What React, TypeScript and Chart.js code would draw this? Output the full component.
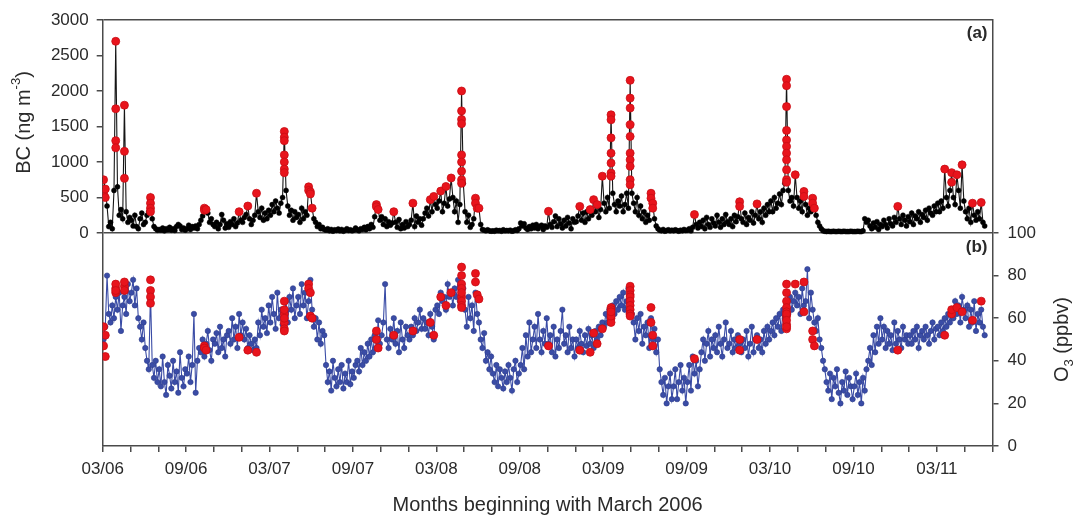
import React, { useEffect, useRef } from 'react';
import { Chart, registerables } from 'chart.js';

Chart.register(...registerables);

// x tick labels (every 6 months from March 2006)
const tickLabels = ['03/06', '09/06', '03/07', '09/07', '03/08', '09/08', '03/09', '09/09', '03/10', '09/10', '03/11'];

// BC (ng m-3), 8 samples per month, Mar 2006 .. mid Jun 2011
const bc2006 = [
  750, 620, 380, 90, 150, 60, 600, 2700,
  650, 250, 330, 200, 1800, 300, 150, 220,
  180, 100, 250, 90, 60, 200, 280, 120,
  150, 250, 300, 500, 200, 90, 60, 40,
  50, 40, 70, 30, 60, 45, 80, 40,
  60, 35, 90, 120, 100, 50, 70, 40,
  60, 110, 50, 90, 70, 100, 60, 120,
  180, 240, 350, 330, 280, 150, 200, 120,
  90, 150, 60, 120, 260, 180, 70, 130,
  80, 160, 120, 200, 90, 140, 300, 180];
const bc2007 = [
  150, 220, 260, 380, 200, 120, 180, 250,
  560, 300, 220, 350, 180, 280, 200, 320,
  250, 400, 300, 450, 350, 280, 420, 500,
  1430, 600, 380, 250, 320, 180, 300, 220,
  260, 150, 350, 200, 300, 250, 650, 580,
  350, 200, 150, 90, 120, 60, 80, 50,
  40, 60, 30, 50, 25, 45, 35, 55,
  30, 50, 25, 40, 60, 35, 45, 30,
  40, 70, 45, 30, 60, 50, 80, 45,
  90, 60, 120, 80, 230, 400, 330, 180,
  230, 120, 200, 90, 160, 110, 140, 300,
  150, 80, 190, 60, 120, 70, 160, 90];
const bc2008 = [
  120, 180, 420, 90, 240, 150, 200, 110,
  200, 280, 350, 240, 470, 300, 515, 400,
  350, 450, 590, 300, 420, 655, 380, 480,
  775, 500, 300, 450, 150, 400, 2000, 700,
  300, 150, 250, 80, 120, 200, 490, 350,
  350, 120, 50, 40, 30, 45, 30, 25,
  30, 25, 40, 30, 35, 25, 45, 30,
  35, 30, 40, 25, 30, 45, 35, 60,
  140, 100, 130, 70, 50, 90, 60, 110,
  70, 120, 60, 90, 110, 50, 100, 80,
  305, 120, 80, 160, 240, 90, 200, 130,
  70, 180, 100, 220, 140, 60, 200, 150];
const bc2009 = [
  160, 240, 375, 180, 280, 150, 300, 200,
  330, 250, 470, 300, 400, 220, 330, 800,
  420, 300, 500, 350, 1665, 560, 400, 300,
  450, 380, 520, 300, 400, 560, 350, 2150,
  560, 420, 300, 500, 250, 380, 200, 300,
  150, 250, 180, 560, 420, 200, 100, 60,
  40, 30, 50, 25, 35, 45, 30, 40,
  30, 45, 35, 25, 40, 30, 50, 35,
  40, 60, 30, 80, 260, 120, 70, 150,
  90, 180, 60, 220, 120, 80, 200, 140,
  100, 250, 150, 80, 200, 120, 260, 160,
  120, 200, 90, 250, 160, 230, 440, 200];
const bc2010 = [
  150, 280, 120, 220, 180, 300, 140, 250,
  410, 200, 300, 150, 350, 250, 400, 300,
  450, 300, 500, 350, 420, 550, 400, 600,
  700, 2165, 600, 450, 500, 380, 820, 500,
  350, 450, 300, 585, 400, 250, 350, 300,
  490, 350, 250, 150, 100, 60, 30, 25,
  20, 25, 20, 20, 25, 20, 20, 25,
  20, 20, 25, 20, 20, 20, 25, 20,
  20, 20, 25, 20, 20, 30, 200, 150,
  180, 100, 60, 140, 80, 160, 50, 120,
  90, 180, 120, 70, 200, 130, 100, 220,
  150, 375, 200, 120, 250, 180, 100, 230];
const bc2011 = [
  160, 280, 120, 240, 200, 300, 150, 260,
  220, 320, 180, 350, 280, 250, 380, 300,
  420, 300, 450, 350, 900, 500, 380, 600,
  850, 500, 400, 820, 600, 350, 960, 450,
  300, 200, 350, 150, 420, 250, 180, 300,
  200, 430, 150, 100];

// O3 (ppbv), same sampling
const o32006 = [
  50, 56, 80, 62, 58, 66, 60, 70,
  64, 72, 54, 66, 70, 62, 76, 68,
  72, 78, 66, 74, 60, 56, 50, 58,
  46, 40, 36, 72, 38, 32, 40, 30,
  36, 28, 42, 30, 24, 38, 33, 27,
  40, 30, 35, 25, 44, 32, 28, 36,
  34, 42, 30, 38, 62, 25, 40, 46,
  44, 50, 42, 48, 54, 45, 40, 50,
  48, 53, 44, 56, 46, 50, 42, 52,
  54, 48, 60, 50, 56, 46, 62, 52];
const o32007 = [
  58, 50, 55, 46, 52, 48, 45, 50,
  46, 58, 52, 64, 56, 60, 53, 66,
  58, 70, 62, 55, 72, 60, 64, 57,
  62, 68, 58, 70, 64, 74, 60, 66,
  70, 62, 76, 66, 72, 60, 68, 78,
  64, 56, 60, 50, 58, 48, 54, 52,
  38, 30, 35, 26, 40, 32, 28, 36,
  30, 38, 27, 34, 30, 40, 29, 35,
  32, 38, 40, 35, 46, 38, 44, 40,
  48, 42, 50, 44, 52, 46, 59, 48,
  52, 58, 76, 50, 46, 55, 50, 60,
  48, 54, 44, 58, 50, 46, 56, 52];
const o32008 = [
  50, 56, 52, 60, 54, 58, 64, 55,
  60, 55, 58, 52, 62, 56, 50, 64,
  66, 62, 72, 68, 70, 64, 76, 70,
  72, 66, 74, 70, 78, 68, 72, 74,
  64, 56, 70, 60, 66, 54, 72, 62,
  58, 50, 46, 53, 40, 44, 36, 42,
  34, 30, 38, 28, 36, 32, 27, 35,
  30, 38, 32, 26, 36, 40, 30, 34,
  38, 46, 36, 52, 42, 58, 44, 50,
  56, 46, 62, 50, 44, 54, 48, 60,
  48, 52, 44, 56, 42, 50, 46, 54,
  64, 48, 52, 44, 56, 46, 50, 42];
const o32009 = [
  50, 46, 54, 48, 44, 52, 47, 55,
  48, 52, 46, 54, 50, 56, 52, 58,
  56, 62, 58, 64, 60, 66, 62, 68,
  64, 70, 66, 72, 64, 68, 74, 66,
  62, 58, 50, 60, 54, 62, 48, 56,
  52, 58, 46, 60, 50, 55, 44, 50,
  36, 30, 24, 32, 20, 28, 34, 22,
  28, 36, 22, 30, 38, 26, 32, 20,
  30, 38, 26, 42, 34, 40, 28, 36,
  44, 50, 40, 48, 54, 42, 50, 46,
  52, 44, 56, 48, 42, 50, 58, 46,
  48, 54, 44, 50, 46, 52, 48, 44];
const o32010 = [
  50, 46, 54, 42, 48, 56, 44, 50,
  52, 46, 50, 44, 54, 48, 56, 50,
  54, 58, 52, 60, 56, 62, 54, 64,
  60, 66, 62, 70, 64, 68, 72, 66,
  70, 62, 74, 66, 68, 83, 60, 72,
  64, 58, 54, 60, 50, 46, 40, 36,
  30, 26, 34, 22, 32, 28, 36, 25,
  20, 30, 26, 35, 24, 32, 28, 22,
  28, 34, 24, 30, 20, 32, 26, 36,
  40, 46, 38, 52, 44, 56, 48, 60,
  50, 56, 46, 54, 48, 52, 45, 58,
  48, 54, 50, 46, 56, 50, 52, 48];
const o32011 = [
  52, 48, 54, 50, 56, 46, 52, 54,
  50, 56, 52, 48, 54, 58, 50, 55,
  56, 52, 58, 54, 60, 56, 62, 58,
  64, 60, 68, 62, 66, 58, 70, 64,
  60, 66, 56, 64, 58, 68, 54, 62,
  58, 64, 56, 52];

// highlighted (red) days: months since 1 March 2006, BC and O3 on those days
const evMonth = [
  0.0625, 0.0625, 0.1875, 0.1875, 0.9375, 0.9375, 0.9375, 0.9375, 1.5625, 1.5625, 1.5625,
  3.4375, 3.4375, 3.4375, 3.4375, 7.3125, 7.3125, 7.4375, 9.8125, 10.4375, 11.0625,
  13.0625, 13.0625, 13.0625, 13.0625, 13.0625, 13.0625, 13.0625,
  14.8125, 14.8125, 14.9375, 14.9375, 15.0625, 19.6875, 19.6875, 19.8125, 20.9375,
  22.3125, 23.5625, 23.8125, 24.3125, 24.6875, 25.0625,
  25.8125, 25.8125, 25.8125, 25.8125, 25.8125, 25.8125, 25.8125, 25.8125, 25.8125,
  26.8125, 26.8125, 26.9375, 27.0625, 32.0625, 34.3125, 35.0625, 35.3125, 35.5625, 35.9375,
  36.5625, 36.5625, 36.5625, 36.5625, 36.5625, 36.5625, 36.5625,
  37.9375, 37.9375, 37.9375, 37.9375, 37.9375, 37.9375, 37.9375, 37.9375, 37.9375, 37.9375,
  39.4375, 39.4375, 39.5625, 39.5625, 42.5625, 45.8125, 45.8125, 47.0625,
  49.1875, 49.1875, 49.1875, 49.1875, 49.1875, 49.1875, 49.1875, 49.1875, 49.1875, 49.1875, 49.1875,
  49.8125, 50.4375, 50.4375, 51.0625, 51.0625, 51.1875, 57.1875, 60.5625,
  61.0625, 61.0625, 61.4375, 61.8125, 62.5625, 63.1875];
const evBC = [
  750, 560, 620, 500, 2700, 1750, 1300, 1200, 1800, 1150, 770,
  500, 420, 350, 300, 350, 320, 330, 300, 380, 560,
  1430, 1350, 1300, 1100, 1000, 900, 850,
  650, 600, 580, 550, 350, 400, 370, 330, 300,
  420, 470, 515, 590, 655, 775,
  2000, 1720, 1600, 1540, 1100, 1000, 870, 750, 700,
  490, 420, 350, 350, 305, 375, 330, 470, 400, 800,
  1665, 1595, 1340, 1125, 985, 845, 800,
  2150, 1900, 1760, 1525, 1360, 1125, 1030, 940, 750, 680,
  560, 490, 420, 350, 260, 440, 375, 410,
  2165, 2075, 1780, 1445, 1310, 1220, 1125, 1030, 890, 750, 715,
  820, 585, 515, 490, 420, 350, 375, 900,
  850, 715, 820, 960, 420, 430];
const evO3 = [
  56, 47, 52, 42, 74, 76, 72, 73, 75, 73, 77,
  78, 73, 70, 67, 47, 46, 45, 51, 45, 44,
  68, 62, 58, 55, 54, 60, 64,
  76, 74, 72, 61, 60, 54, 50, 46, 52,
  54, 58, 52, 70, 66, 72,
  84, 80, 76, 74, 70, 68, 72, 66, 65,
  81, 77, 71, 69, 47, 45, 44, 53, 48, 55,
  65, 62, 64, 60, 58, 61, 63,
  75, 73, 71, 70, 68, 66, 64, 62, 62, 61,
  65, 58, 52, 47, 41, 50, 45, 50,
  76, 72, 68, 65, 63, 61, 57, 55, 62, 59, 56,
  76, 77, 63, 54, 50, 47, 45, 52,
  62, 64, 65, 63, 59, 68];

const FONT = "'Liberation Sans', Arial, Helvetica, sans-serif";
const AXIS = '#4a4a4a';
const TEXT = '#2a2a2a';
const RED = '#e8141c';
const BLUE = '#3a4ca6';
const CLEAR = 'rgba(0,0,0,0)';

const decor = {
  id: 'decor',
  afterDraw(chart: any) {
    const { ctx, chartArea } = chart;
    const mid = chart.scales.yBC.getPixelForValue(0);
    ctx.save();
    ctx.fillStyle = TEXT;
    ctx.textBaseline = 'middle';
    const big = `20px ${FONT}`;
    const small = `13px ${FONT}`;
    // left title: BC (ng m-3)
    ctx.save();
    ctx.translate(24, (chartArea.top + mid) / 2 - 4);
    ctx.rotate(-Math.PI / 2);
    ctx.font = big;
    const w1 = ctx.measureText('BC (ng m').width;
    const w3 = ctx.measureText(')').width;
    ctx.font = small;
    const w2 = ctx.measureText('-3').width;
    let x = -(w1 + w2 + w3) / 2;
    ctx.textAlign = 'left';
    ctx.font = big;
    ctx.fillText('BC (ng m', x, 0);
    x += w1;
    ctx.font = small;
    ctx.fillText('-3', x, -8);
    x += w2;
    ctx.font = big;
    ctx.fillText(')', x, 0);
    ctx.restore();
    // right title: O3 (ppbv)
    ctx.save();
    ctx.translate(1062, (mid + chartArea.bottom) / 2);
    ctx.rotate(-Math.PI / 2);
    ctx.font = big;
    const a1 = ctx.measureText('O').width;
    const a3 = ctx.measureText(' (ppbv)').width;
    ctx.font = small;
    const a2 = ctx.measureText('3').width;
    x = -(a1 + a2 + a3) / 2;
    ctx.textAlign = 'left';
    ctx.font = big;
    ctx.fillText('O', x, 0);
    x += a1;
    ctx.font = small;
    ctx.fillText('3', x, 7);
    x += a2;
    ctx.font = big;
    ctx.fillText(' (ppbv)', x, 0);
    ctx.restore();
    // panel labels
    ctx.font = `bold 17px ${FONT}`;
    ctx.textAlign = 'right';
    ctx.fillText('(a)', chartArea.right - 5, chartArea.top + 13);
    ctx.fillText('(b)', chartArea.right - 5, mid + 14);
    ctx.restore();
  },
};

export default function App() {
  const ref = useRef<HTMLCanvasElement | null>(null);

  useEffect(() => {
    if (!ref.current) return;
    const bcAll = [...bc2006, ...bc2007, ...bc2008, ...bc2009, ...bc2010, ...bc2011];
    const o3All = [...o32006, ...o32007, ...o32008, ...o32009, ...o32010, ...o32011];
    const monthOf = (i: number) => i / 8 + 1 / 16;
    const bcData = bcAll.map((v, i) => ({ x: monthOf(i), y: v }));
    const o3Data = o3All.map((v, i) => ({ x: monthOf(i), y: v }));
    const evBCData = evMonth.map((m, i) => ({ x: m, y: evBC[i] }));
    const evO3Data = evMonth.map((m, i) => ({ x: m, y: evO3[i] }));

    Chart.defaults.font.family = FONT;

    const chart = new Chart(ref.current, {
      type: 'line',
      data: {
        datasets: [
          {
            label: 'BC events', data: evBCData, yAxisID: 'yBC', showLine: false, order: 0,
            pointRadius: 4, pointBackgroundColor: RED, pointBorderColor: '#c80d14', pointBorderWidth: 0.8,
          },
          {
            label: 'O3 events', data: evO3Data, yAxisID: 'yO3', showLine: false, order: 1,
            pointRadius: 4, pointBackgroundColor: RED, pointBorderColor: '#c80d14', pointBorderWidth: 0.8,
          },
          {
            label: 'BC', data: bcData, yAxisID: 'yBC', order: 2,
            borderColor: '#151515', borderWidth: 1.1, pointRadius: 2.5,
            pointBackgroundColor: '#000', pointBorderColor: '#000', pointBorderWidth: 0.5, tension: 0,
          },
          {
            label: 'O3', data: o3Data, yAxisID: 'yO3', order: 3,
            borderColor: BLUE, borderWidth: 1.1, pointRadius: 2.7,
            pointBackgroundColor: BLUE, pointBorderColor: '#2e3d8c', pointBorderWidth: 0.6, tension: 0,
          },
        ],
      },
      options: {
        animation: false,
        responsive: true,
        maintainAspectRatio: false,
        layout: { padding: { top: 20, left: 0, right: 0, bottom: 0 } },
        plugins: { legend: { display: false }, tooltip: { enabled: false } },
        scales: {
          x: {
            type: 'linear', min: 0, max: 64, position: 'bottom',
            afterFit: (s: any) => { s.height = 71; },
            border: { display: true, color: AXIS, width: 1.5 },
            grid: { drawOnChartArea: false, drawTicks: true, tickLength: 6, color: AXIS, lineWidth: 1.5 },
            ticks: {
              stepSize: 2, autoSkip: false, maxRotation: 0, padding: 7,
              color: TEXT, font: { size: 17 },
              callback: (v: any) => (Number(v) % 6 === 0 ? tickLabels[Number(v) / 6] ?? '' : ''),
            },
            title: {
              display: true, text: 'Months beginning with March 2006',
              color: TEXT, font: { size: 20 }, padding: { top: 0, bottom: 0 },
            },
          },
          yBC: {
            type: 'linear', position: 'left', min: -3000, max: 3000,
            afterFit: (s: any) => { s.width = 102.7; },
            border: { display: true, color: AXIS, width: 1.5 },
            grid: {
              drawOnChartArea: true, drawTicks: true, tickLength: 6, lineWidth: 1.5,
              color: (c: any) => (c.tick && (c.tick.value === 0 || c.tick.value === 3000) ? AXIS : CLEAR),
              tickColor: (c: any) => (c.tick && c.tick.value >= 0 ? AXIS : CLEAR),
            },
            ticks: {
              stepSize: 500, autoSkip: false, padding: 8, color: TEXT, font: { size: 17 },
              callback: (v: any) => (Number(v) >= 0 ? String(v) : ''),
            },
          },
          yO3: {
            type: 'linear', position: 'right', min: 0, max: 200,
            afterFit: (s: any) => { s.width = 85.5; },
            border: { display: true, color: AXIS, width: 1.5 },
            grid: {
              drawOnChartArea: false, drawTicks: true, tickLength: 6, lineWidth: 1.5,
              color: (c: any) => (c.tick && c.tick.value <= 100 ? AXIS : CLEAR),
              tickColor: (c: any) => (c.tick && c.tick.value <= 100 ? AXIS : CLEAR),
            },
            ticks: {
              stepSize: 20, autoSkip: false, padding: 9, color: TEXT, font: { size: 17 },
              callback: (v: any) => (Number(v) <= 100 ? String(v) : ''),
            },
          },
        },
      } as any,
      plugins: [decor],
    });
    return () => chart.destroy();
  }, []);

  return (
    <div style={{ position: 'absolute', left: 0, top: 0, width: 1078, height: 517, background: '#fff' }}>
      <canvas ref={ref} />
    </div>
  );
}
